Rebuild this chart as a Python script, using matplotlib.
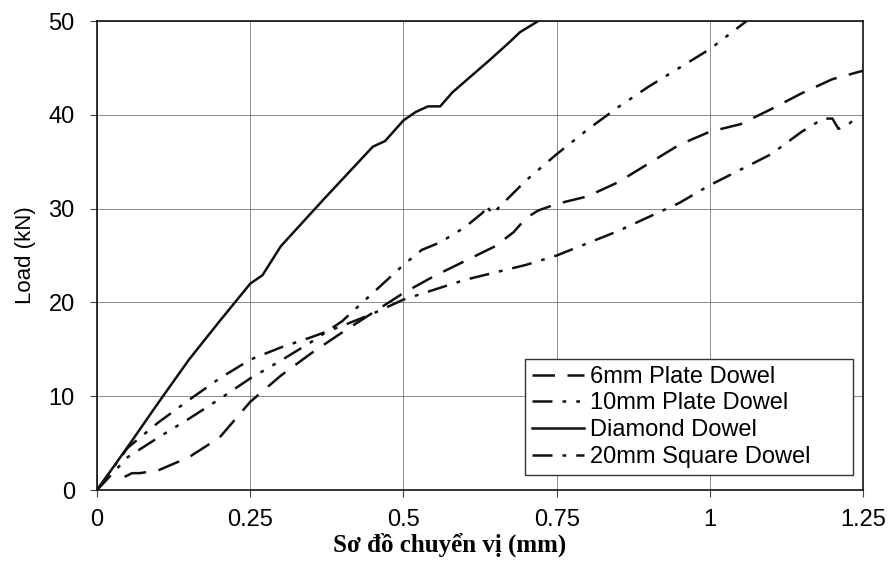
import matplotlib
matplotlib.use("Agg")
import matplotlib.pyplot as plt

# displacement (mm) / load (kN) for each dowel type
plate6_x = [0.045, 0.057, 0.07, 0.1, 0.15, 0.2, 0.25, 0.3, 0.35, 0.4, 0.45, 0.5, 0.55,
            0.6, 0.65, 0.68, 0.7, 0.72, 0.75, 0.8, 0.85, 0.9, 0.95, 1.0, 1.05, 1.1,
            1.15, 1.2, 1.25]
plate6_y = [1.4, 1.8, 1.8, 2.1, 3.5, 5.6, 9.4, 12.2, 14.6, 16.8, 18.9, 21.0, 22.8,
            24.4, 26.0, 27.5, 29.0, 29.8, 30.5, 31.3, 32.8, 34.8, 36.8, 38.2, 39.0,
            40.6, 42.3, 43.8, 44.7]

plate10_x = [0.0, 0.05, 0.1, 0.15, 0.2, 0.25, 0.3, 0.35, 0.4, 0.45, 0.5, 0.53, 0.56,
             0.6, 0.63, 0.635, 0.645, 0.66, 0.7, 0.75, 0.8, 0.85, 0.9, 0.95, 1.0, 1.06]
plate10_y = [0.0, 3.5, 5.6, 7.6, 9.7, 11.9, 13.8, 15.8, 18.0, 21.0, 24.0, 25.6, 26.4,
             28.0, 29.6, 30.4, 29.4, 30.4, 33.0, 35.8, 38.4, 40.8, 43.0, 45.0, 47.0, 50.0]

diamond_x = [0.0, 0.05, 0.1, 0.15, 0.2, 0.25, 0.27, 0.3, 0.37, 0.45, 0.47, 0.5,
             0.52, 0.54, 0.56, 0.58, 0.64, 0.674, 0.69, 0.72]
diamond_y = [0.0, 4.6, 9.3, 13.9, 18.0, 22.0, 22.9, 26.0, 31.0, 36.6, 37.2, 39.4,
             40.3, 40.9, 40.9, 42.4, 45.8, 47.8, 48.8, 50.0]

square20_x = [0.0, 0.05, 0.1, 0.15, 0.2, 0.25, 0.3, 0.35, 0.4, 0.45, 0.5, 0.6, 0.7,
              0.75, 0.85, 0.95, 1.0, 1.1, 1.15, 1.185, 1.2, 1.21, 1.225, 1.24]
square20_y = [0.0, 4.5, 7.2, 9.6, 11.9, 13.9, 15.2, 16.3, 17.5, 18.8, 20.3, 22.4, 24.0,
              25.0, 27.6, 30.6, 32.5, 35.8, 38.2, 39.6, 39.6, 38.5, 38.9, 39.8]

x_ticks = [0, 0.25, 0.5, 0.75, 1, 1.25]
x_ticklabels = ["0", "0.25", "0.5", "0.75", "1", "1.25"]
y_ticks = [0, 10, 20, 30, 40, 50]

INK = "#111111"
plt.rcParams.update({"font.family": "Liberation Sans", "font.size": 17})

fig = plt.figure(figsize=(8.91, 5.65), dpi=100)
ax = fig.add_axes([0.1089, 0.1327, 0.8597, 0.8301])

ax.plot(plate6_x, plate6_y, color=INK, lw=1.8, dashes=(9, 5), label="6mm Plate Dowel")
ax.plot(plate10_x, plate10_y, color=INK, lw=1.8, dashes=(8, 4, 1.5, 4, 1.5, 4),
        label="10mm Plate Dowel")
ax.plot(diamond_x, diamond_y, color=INK, lw=1.8, label="Diamond Dowel")
ax.plot(square20_x, square20_y, color=INK, lw=1.8, dashes=(8, 4, 1.5, 4),
        label="20mm Square Dowel")

ax.set_xlim(0, 1.25)
ax.set_ylim(0, 50)
ax.set_xticks(x_ticks)
ax.set_xticklabels(x_ticklabels)
ax.set_yticks(y_ticks)
ax.tick_params(axis="both", direction="out", length=5, width=0.8, color="#444444",
               labelsize=17)
ax.tick_params(axis="x", pad=9)
ax.tick_params(axis="y", pad=11)
ax.grid(True, color="#777777", lw=0.6)
ax.set_axisbelow(True)
for s in ax.spines.values():
    s.set_linewidth(1.2)
    s.set_color(INK)

ax.set_ylabel("Load (kN)", fontsize=16, va="center")
ax.yaxis.set_label_coords(-0.094, 0.5)
ax.set_xlabel("Sơ đồ chuyển vị (mm)", family="Liberation Serif", fontsize=18,
              fontweight="bold", va="center")
ax.xaxis.set_label_coords(0.46, -0.117)

# legend box stretched to a fixed width in the lower right corner
leg = ax.legend(loc="lower left", bbox_to_anchor=(0.559, 0.032, 0.428, 0.245),
                mode="expand", borderaxespad=0, fontsize=17, frameon=True,
                fancybox=False, handlelength=2.2, handletextpad=0.25,
                borderpad=0.3, labelspacing=0.2)
leg.get_frame().set_edgecolor("#333333")
leg.get_frame().set_linewidth(1.0)
leg.get_frame().set_alpha(1)

fig.savefig("out.png", dpi=100)
